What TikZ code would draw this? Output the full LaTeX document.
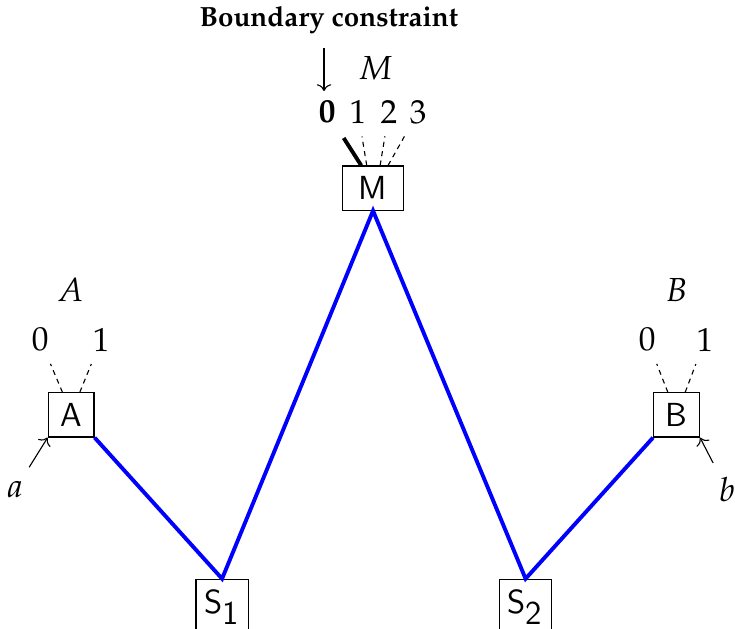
\documentclass[tikz,border=0pt]{standalone}
\usepackage[T1]{fontenc}
\usepackage{mathpazo}
\newcommand{\boxfont}{\fontencoding{TU}\fontfamily{lmss}\selectfont}
\usetikzlibrary{arrows.meta}

\begin{document}
\begin{tikzpicture}[>=To,
    box/.style={draw, font=\large\boxfont, minimum height=0.56cm, minimum width=0.58cm, inner sep=2pt},
    wire/.style={blue, line width=1.4pt},
    leg/.style={dash pattern=on 1.8pt off 1.6pt, shorten >=1pt}]
  \useasboundingbox (0,0) rectangle (9.30,7.95);
  % boxes
  \node[box, minimum width=0.78cm] (M) at (4.72,5.57) {M};
  \node[box] (A) at (0.90,2.70) {A};
  \node[box] (B) at (8.56,2.70) {B};
  \node[box, minimum width=0.66cm, minimum height=0.7cm] (s1) at (2.81,0.27) {S$_{\mbox{1}}$};
  \node[box, minimum width=0.66cm, minimum height=0.7cm] (s2) at (6.65,0.27) {S$_{\mbox{2}}$};
  % labels
  \node (bc) at (4.16,7.70) {\textbf{Boundary constraint}};
  \node (lm) at (4.75,7.09) {\large $M$};
  \node (m0) at (4.14,6.53) {\large $\mathbf{0}$};
  \node (m1) at (4.53,6.53) {\large $1$};
  \node (m2) at (4.92,6.53) {\large $2$};
  \node (m3) at (5.29,6.53) {\large $3$};
  \node (la) at (0.89,4.28) {\large $A$};
  \node (a0) at (0.51,3.65) {\large $0$};
  \node (a1) at (1.28,3.65) {\large $1$};
  \node (lb) at (8.56,4.28) {\large $B$};
  \node (b0) at (8.19,3.65) {\large $0$};
  \node (b1) at (8.92,3.65) {\large $1$};
  \node (ia) at (0.19,1.75) {\large $a$};
  \node (ib) at (9.20,1.75) {\large $b$};
  % ends on the box tops
  \coordinate (p0) at ([xshift=-0.15cm]M.north);
  \coordinate (p1) at ([xshift=-0.08cm]M.north);
  \coordinate (p2) at ([xshift=0.09cm]M.north);
  \coordinate (p3) at ([xshift=0.19cm]M.north);
  \coordinate (q0) at ([xshift=-0.11cm]A.north);
  \coordinate (q1) at ([xshift=0.11cm]A.north);
  \coordinate (r0) at ([xshift=-0.11cm]B.north);
  \coordinate (r1) at ([xshift=0.11cm]B.north);
  \coordinate (top) at (4.10,7.34);
  % wires
  \draw[wire] (A.south east) -- (s1.north) -- (M.south) -- (s2.north) -- (B.south west);
  % legs
  \draw[line width=1.4pt, shorten >=2pt] (p0) -- (m0);
  \draw[leg] (p1) -- (m1);
  \draw[leg] (p2) -- (m2);
  \draw[leg] (p3) -- (m3);
  \draw[leg] (q0) -- (a0);
  \draw[leg] (q1) -- (a1);
  \draw[leg] (r0) -- (b0);
  \draw[leg] (r1) -- (b1);
  % inputs
  \draw[->] (top) -- (top |- m0.north);
  \draw[->, shorten <=2pt] (ia) -- (A.south west);
  \draw[->, shorten <=2pt] (ib) -- (B.south east);
\end{tikzpicture}
\end{document}
